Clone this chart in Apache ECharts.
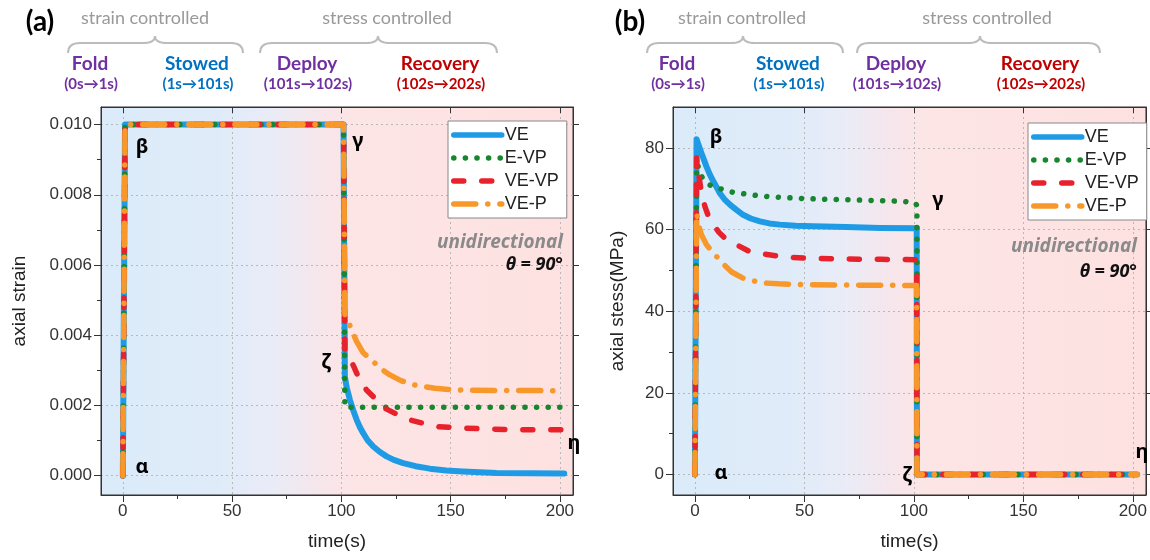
<!DOCTYPE html>
<html><head><meta charset="utf-8">
<script src="https://cdn.jsdelivr.net/npm/echarts@6/dist/echarts.min.js"></script>
<style>html,body{margin:0;padding:0;background:#fff}#c{width:1150px;height:560px}</style>
</head><body><div id="c"></div>
<script>
// ---------- DATA ----------
const seriesNames = ['VE', 'E-VP', 'VE-VP', 'VE-P'];

// panel (a): axial strain vs time(s)
const strainVE = [[0,0],[1,0.01],[101,0.01],[101.6,0.0028],[102.5,0.0025],[103.9,0.00216],[105.5,0.00185],[107,0.00159],[108.5,0.00138],[110,0.00121],[112,0.00101],[114.6,0.00083],[117.5,0.00068],[120.7,0.00055],[124,0.00045],[128.3,0.00036],[134,0.00027],[140.5,0.0002],[148,0.00015],[155.7,0.00012],[171,0.00008],[202,0.00006]];
const strainEVP = [[0,0],[1,0.01],[101,0.01],[101.6,0.00195],[200.5,0.00195]];
const strainVEVP = [[0,0],[1,0.01],[101,0.01],[101.6,0.00358],[103.1,0.00339],[105.4,0.00315],[107.7,0.00282],[111.5,0.00244],[116.1,0.00216],[119.9,0.00192],[126,0.00173],[131.4,0.00159],[138.2,0.00148],[143.6,0.0014],[154.3,0.00136],[166.4,0.00133],[180,0.00131],[202.3,0.00131]];
const strainVEP = [[0,0],[1,0.01],[101,0.01],[101.6,0.0046],[103.1,0.0044],[105,0.0041],[107,0.00382],[110,0.0035],[114.6,0.00325],[118,0.00305],[122.2,0.00287],[127.5,0.0027],[132.9,0.00259],[142.8,0.00249],[150,0.00245],[160,0.00243],[202,0.00242]];

// panel (b): axial stress (MPa) vs time(s)
const stressVE = [[0,0],[0.76,82.1],[1.8,80.5],[3,78.7],[4.2,77],[5.3,75.4],[6.8,73.5],[8.4,71.8],[10,70.3],[11.4,68.9],[13.5,67.4],[16,66.1],[19,64.8],[22,63.6],[25.5,62.7],[29.7,62],[34,61.5],[38.8,61.2],[46,60.95],[54,60.8],[69.3,60.6],[84.5,60.4],[101.3,60.3],[101.4,0],[202,0]];
const stressEVP = [[0,0],[0.8,77.5],[1.8,74.5],[3,73],[4.8,71.8],[6.8,70.9],[9.5,70.3],[12.2,69.9],[17.5,69.1],[22.8,68.7],[30,68.2],[38.8,67.9],[49.5,67.6],[60,67.4],[70.8,67.3],[81.5,67.1],[95,66.9],[100.8,66.5],[101.4,65.8],[101.4,0],[202,0]];
const stressVEVP = [[0,0],[0.8,77.5],[2,72.5],[3,69],[4.6,65.6],[6,63.5],[7.5,62],[9.1,60.7],[11,59.3],[13.7,57.9],[16,57.1],[19,56.3],[25,54.6],[30.4,54.1],[38.8,53.4],[50,53],[65,52.8],[85,52.7],[101.3,52.6],[101.4,0],[202,0]];
const stressVEP = [[0,0],[0.8,64],[2,60.5],[3,58.7],[5.3,56.3],[7.5,54.8],[9.5,53.6],[11.4,52.6],[14,51],[16.8,49.6],[19.5,48.8],[22,48.1],[27,47.4],[32,46.9],[38.2,46.7],[50,46.5],[70,46.4],[101.3,46.3],[101.4,0],[202,0]];

// tick values
const timeMajorTicks = [0, 50, 100, 150, 200];
const timeMinorTicks = [25, 75, 125, 175];
const strainMajorTicks = [0, 0.002, 0.004, 0.006, 0.008, 0.010];
const strainMinorTicks = [0.001, 0.003, 0.005, 0.007, 0.009];
const stressMajorTicks = [0, 20, 40, 60, 80];
const stressMinorTicks = [10, 30, 50, 70];

// header texts
const phaseGroups = ['strain controlled', 'stress controlled'];
const phaseNames = ['Fold', 'Stowed', 'Deploy', 'Recovery'];
const phaseTimes = ['(0s\u21921s)', '(1s\u2192101s)', '(101s\u2192102s)', '(102s\u2192202s)'];
const phaseColors = ['#7030a0', '#0070c0', '#7030a0', '#c00000'];

// ---------- CHART ----------
const FONT = '"Liberation Sans", Arial, sans-serif';
const HFONT = 'Lato, "Noto Sans", sans-serif';
const GFONT = '"Noto Sans", "DejaVu Sans", sans-serif';
const AX = '#333';

const lineLooks = [
  { color: '#1f9be6', type: 'solid' },
  { color: '#17862e', type: [0.1, 11.5] },
  { color: '#e8222c', type: [10, 18] },
  { color: '#f9982a', type: [22, 12, 0.1, 12] }
];

const bg = {
  type: 'linear', x: 0, y: 0, x2: 1, y2: 0,
  colorStops: [
    { offset: 0, color: '#dbebfa' },
    { offset: 0.25, color: '#e0ebf9' },
    { offset: 0.36, color: '#e9ecf7' },
    { offset: 0.46, color: '#f6e6ec' },
    { offset: 0.54, color: '#fde5e5' },
    { offset: 1, color: '#fde1e1' }
  ]
};

function xAxesFor(gi) {
  const base = { type: 'value', gridIndex: gi, min: -10, max: 206 };
  return [
    Object.assign({}, base, {
      position: 'bottom', name: 'time(s)', nameLocation: 'middle', nameGap: 37,
      nameTextStyle: { fontSize: 19, color: '#222', fontFamily: FONT },
      axisLine: { show: true, onZero: false, lineStyle: { color: AX, width: 1 } },
      axisTick: { show: true, inside: false, length: 7, customValues: timeMajorTicks, lineStyle: { color: AX } },
      axisLabel: { show: true, customValues: timeMajorTicks, fontSize: 17, color: '#333', margin: 8, fontFamily: FONT },
      splitLine: { show: true, lineStyle: { color: '#b8b8b8', type: [2, 3], width: 1 } }
    }),
    Object.assign({}, base, {
      position: 'bottom',
      axisLine: { show: false, onZero: false },
      axisTick: { show: true, inside: false, length: 4, customValues: timeMinorTicks, lineStyle: { color: AX } },
      axisLabel: { show: false }, splitLine: { show: false }
    }),
    Object.assign({}, base, {
      position: 'top',
      axisLine: { show: true, onZero: false, lineStyle: { color: AX, width: 1 } },
      axisTick: { show: true, inside: true, length: 6, customValues: timeMajorTicks, lineStyle: { color: AX } },
      axisLabel: { show: false }, splitLine: { show: false }
    })
  ];
}

function yAxesFor(gi, min, max, major, minor, name, nameGap, fmt) {
  const base = { type: 'value', gridIndex: gi, min: min, max: max };
  return [
    Object.assign({}, base, {
      position: 'left', name: name, nameLocation: 'middle', nameGap: nameGap, nameRotate: 90,
      nameTextStyle: { fontSize: 19, color: '#222', fontFamily: FONT },
      axisLine: { show: true, onZero: false, lineStyle: { color: AX, width: 1 } },
      axisTick: { show: true, inside: false, length: 7, customValues: major, lineStyle: { color: AX } },
      axisLabel: { show: true, customValues: major, fontSize: 17, color: '#333', margin: 9, fontFamily: FONT, formatter: fmt },
      splitLine: { show: true, lineStyle: { color: '#b8b8b8', type: [2, 3], width: 1 } }
    }),
    Object.assign({}, base, {
      position: 'left',
      axisLine: { show: false, onZero: false },
      axisTick: { show: true, inside: false, length: 4, customValues: minor, lineStyle: { color: AX } },
      axisLabel: { show: false }, splitLine: { show: false }
    }),
    Object.assign({}, base, {
      position: 'right',
      axisLine: { show: true, onZero: false, lineStyle: { color: AX, width: 1 } },
      axisTick: { show: true, inside: false, length: 6, customValues: major, lineStyle: { color: AX } },
      axisLabel: { show: false }, splitLine: { show: false }
    })
  ];
}

function makeSeries(dataList, xi, yi) {
  return dataList.map((d, i) => ({
    type: 'line', name: seriesNames[i], data: d,
    xAxisIndex: xi, yAxisIndex: yi,
    symbol: 'none', showSymbol: false, clip: true,
    color: lineLooks[i].color,
    lineStyle: { color: lineLooks[i].color, width: i === 0 ? 6 : 5.5, type: lineLooks[i].type, cap: 'round', join: 'round' },
    z: 2 + i
  }));
}

function legendAt(left, top) {
  return {
    data: seriesNames, orient: 'vertical', left: left, top: top,
    itemWidth: 48, itemHeight: 14, itemGap: 5,
    padding: [5, 8, 5, 3],
    backgroundColor: '#fff', borderColor: '#888', borderWidth: 1, borderRadius: 0,
    itemStyle: { opacity: 0, borderWidth: 0 },
    lineStyle: { width: 5.5, cap: 'round' },
    textStyle: { fontSize: 18, color: '#222', fontFamily: FONT, padding: [0, 0, 0, -2] },
    selectedMode: false
  };
}

// ---------- decorations ----------
function txt(x, y, s, opt) {
  return {
    type: 'text', x: x, y: y, silent: true, z: 100,
    style: Object.assign({ text: s, textAlign: 'center', textVerticalAlign: 'middle', fill: '#000', font: 'bold 20px ' + GFONT }, opt || {})
  };
}
function brace(x0, x1, mid, yEnd, yBar, yPeak) {
  const st = { stroke: '#bcbcbc', lineWidth: 2, fill: null };
  const r = 12;
  return [
    { type: 'bezierCurve', silent: true, shape: { x1: x0, y1: yEnd, x2: x0 + r, y2: yBar, cpx1: x0, cpy1: yBar }, style: st },
    { type: 'line', silent: true, shape: { x1: x0 + r, y1: yBar, x2: mid - r, y2: yBar }, style: st },
    { type: 'bezierCurve', silent: true, shape: { x1: mid - r, y1: yBar, x2: mid, y2: yPeak, cpx1: mid, cpy1: yBar }, style: st },
    { type: 'bezierCurve', silent: true, shape: { x1: mid, y1: yPeak, x2: mid + r, y2: yBar, cpx1: mid, cpy1: yBar }, style: st },
    { type: 'line', silent: true, shape: { x1: mid + r, y1: yBar, x2: x1 - r, y2: yBar }, style: st },
    { type: 'bezierCurve', silent: true, shape: { x1: x1 - r, y1: yBar, x2: x1, y2: yEnd, cpx1: x1, cpy1: yBar }, style: st }
  ];
}
function header(letter, letterX, groupX, braces, phaseX) {
  const els = [];
  els.push(txt(letterX, 22, letter, { font: 'bold 28px ' + HFONT }));
  groupX.forEach((gx, i) => els.push(txt(gx, 18, phaseGroups[i], { font: '18px ' + HFONT, fill: '#999' })));
  braces.forEach(b => els.push.apply(els, brace(b[0], b[1], b[2], 53, 43, 36)));
  phaseX.forEach((px, i) => {
    els.push(txt(px, 64, phaseNames[i], { font: 'bold 19px ' + HFONT, fill: phaseColors[i] }));
    els.push(txt(px + 1, 84, phaseTimes[i], { font: 'bold 15px ' + HFONT, fill: phaseColors[i] }));
  });
  return els;
}

const graphics = [].concat(
  header('(a)', 40, [145, 387], [[68, 243, 155], [260, 497, 378]], [90, 197, 307, 440]),
  header('(b)', 630, [742, 987], [[647, 843, 743], [857, 1100, 980]], [677, 788, 896, 1040]),
  [
    txt(142, 147, '\u03b2'), txt(142, 467, '\u03b1'), txt(358, 141, '\u03b3'), txt(326, 362, '\u03b6'), txt(574, 443, '\u03b7'),
    txt(716, 137, '\u03b2'), txt(721, 473, '\u03b1'), txt(938, 200, '\u03b3'), txt(907, 475, '\u03b6'), txt(1142, 452, '\u03b7'),
    txt(563, 243, 'unidirectional', { textAlign: 'right', font: 'italic bold 19px ' + GFONT, fill: '#8a8a8a' }),
    txt(563, 265, '\u03b8 = 90\u00b0', { textAlign: 'right', font: 'italic bold 18px ' + GFONT, fill: '#111' }),
    txt(1137, 247, 'unidirectional', { textAlign: 'right', font: 'italic bold 19px ' + GFONT, fill: '#8a8a8a' }),
    txt(1137, 272, '\u03b8 = 90\u00b0', { textAlign: 'right', font: 'italic bold 18px ' + GFONT, fill: '#111' })
  ]
);

const chart = echarts.init(document.getElementById('c'), null, { renderer: 'canvas' });
chart.setOption({
  animation: false,
  backgroundColor: '#fff',
  grid: [
    { left: 101, top: 107, width: 472, height: 388, show: true, backgroundColor: bg, borderColor: AX, borderWidth: 1 },
    { left: 673, top: 107, width: 474, height: 388, show: true, backgroundColor: bg, borderColor: AX, borderWidth: 1 }
  ],
  xAxis: [].concat(xAxesFor(0), xAxesFor(1)),
  yAxis: [].concat(
    yAxesFor(0, -0.00055, 0.0105, strainMajorTicks, strainMinorTicks, 'axial strain', 72, v => v.toFixed(3)),
    yAxesFor(1, -5, 90, stressMajorTicks, stressMinorTicks, 'axial stess(MPa)', 46, v => String(Math.round(v)))
  ),
  legend: [legendAt(448, 121), legendAt(1028, 123)],
  series: [].concat(
    makeSeries([strainVE, strainEVP, strainVEVP, strainVEP], 0, 0),
    makeSeries([stressVE, stressEVP, stressVEVP, stressVEP], 3, 3)
  ),
  graphic: graphics
});
</script>
</body></html>
